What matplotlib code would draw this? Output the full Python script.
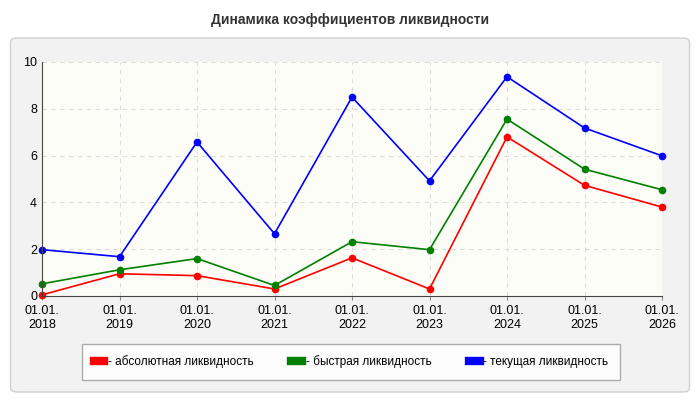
import matplotlib
matplotlib.use("Agg")
import matplotlib.pyplot as plt
from matplotlib.patches import FancyBboxPatch

plt.rcParams['font.family'] = ['Liberation Sans', 'DejaVu Sans']

years = ["01.01.\n2018","01.01.\n2019","01.01.\n2020","01.01.\n2021","01.01.\n2022",
         "01.01.\n2023","01.01.\n2024","01.01.\n2025","01.01.\n2026"]
absolute = [0.05, 0.95, 0.87, 0.3, 1.63, 0.3, 6.8, 4.73, 3.8]
quick = [0.52, 1.12, 1.6, 0.45, 2.32, 1.98, 7.56, 5.42, 4.54]
current = [1.98, 1.68, 6.58, 2.66, 8.5, 4.92, 9.37, 7.18, 5.99]
labels = ["- абсолютная ликвидность", "- быстрая ликвидность", "- текущая ликвидность"]
colors = ["#ff0000", "#008000", "#0000ff"]

fig = plt.figure(figsize=(7, 4), dpi=100)
fig.patch.set_facecolor("white")
bg = FancyBboxPatch((0.015, 0.02), 0.97, 0.885, boxstyle="round,pad=0,rounding_size=0.01",
                    transform=fig.transFigure, facecolor="#f2f2f2", edgecolor="#d0d0d0", lw=1,
                    zorder=-10)
fig.patches.append(bg)
fig.text(0.5, 0.95, "Динамика коэффициентов ликвидности", ha="center", va="center",
         fontsize=10, fontweight="bold", color="#333333")

ax = fig.add_axes([42/700, 1-296/400, 620/700, 234/400])
ax.set_facecolor("#fdfdf8")
x = list(range(len(years)))
for vals, c, l in zip([absolute, quick, current], colors, labels):
    ax.plot(x, vals, color=c, lw=1.2, marker="o", ms=4.5, label=l, clip_on=False)
ax.set_xlim(0, len(years)-1)
ax.set_ylim(0, 10)
ax.set_yticks([0, 2, 4, 6, 8, 10])
ax.set_xticks(x)
ax.set_xticklabels(years, fontsize=9)
ax.tick_params(axis="y", labelsize=9, length=0)
ax.tick_params(axis="x", length=3, color="#888888")
ax.grid(True, ls=(0, (4, 4)), color="#dddddd", lw=0.8)
for s in ["top", "right"]:
    ax.spines[s].set_visible(False)
for s in ["left", "bottom"]:
    ax.spines[s].set_color("#444444")

leg = fig.legend(loc="center", bbox_to_anchor=(351/700, 1-362/400), ncol=3, fontsize=8.5,
                 handlelength=0.9, handleheight=0.7, markerscale=0, frameon=True,
                 columnspacing=3.2, borderpad=1.0, handletextpad=0.3, fancybox=False)
for h, c in zip(leg.legend_handles, colors):
    h.set_linewidth(6)
    h.set_color(c)
leg.get_frame().set_edgecolor("#999999")
leg.get_frame().set_facecolor("white")
fig.savefig("out.png", dpi=100)
